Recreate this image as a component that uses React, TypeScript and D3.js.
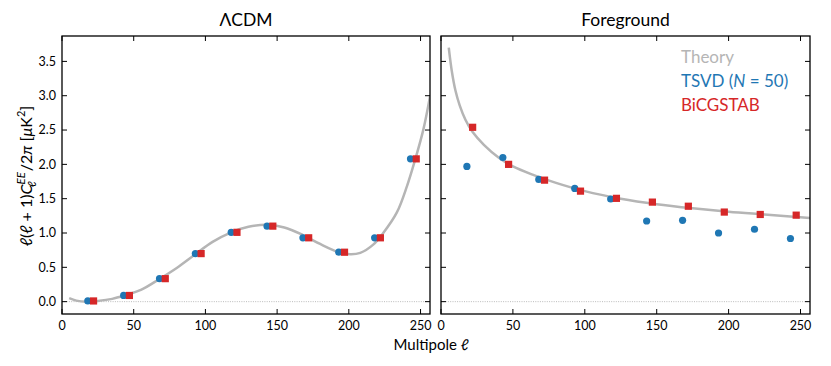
import React from 'react'
import * as d3 from 'd3'

// band centres (TSVD points sit a bit left of the bin, BiCGSTAB a bit right)
const ellTsvd = [18, 43, 68, 93, 118, 143, 168, 193, 218, 243]
const ellBicg = [22, 47, 72, 97, 122, 147, 172, 197, 222, 247]

// LCDM panel
const lcdmTsvd = [0.01, 0.09, 0.335, 0.70, 1.01, 1.10, 0.93, 0.72, 0.93, 2.08]
const lcdmBicg = [0.01, 0.09, 0.335, 0.70, 1.01, 1.10, 0.93, 0.72, 0.93, 2.08]
const lcdmTheoryEll = [5, 10, 17, 25, 35, 45, 55, 68, 80, 93, 105, 118, 130, 143, 155, 168, 180, 193, 201, 208, 217, 224, 233.5, 240.5, 246.4, 252, 256.6]
const lcdmTheory = [0.05, 0.015, 0.0, 0.01, 0.04, 0.10, 0.17, 0.33, 0.49, 0.69, 0.87, 1.01, 1.09, 1.12, 1.08, 0.97, 0.84, 0.72, 0.69, 0.71, 0.83, 1.0, 1.30, 1.68, 2.08, 2.51, 2.99]

// foreground panel
const fgTsvd = [1.97, 2.10, 1.78, 1.65, 1.495, 1.175, 1.185, 1.00, 1.055, 0.92]
const fgBicg = [2.54, 2.00, 1.77, 1.61, 1.505, 1.45, 1.39, 1.305, 1.27, 1.26]
const fgTheoryEll = [5.4, 7.5, 10, 13, 17, 22, 30, 40, 50, 65, 80, 100, 125, 150, 175, 200, 225, 256.6]
const fgTheory = [3.70, 3.36, 3.08, 2.86, 2.65, 2.47, 2.28, 2.10, 1.97, 1.84, 1.73, 1.61, 1.50, 1.42, 1.36, 1.31, 1.27, 1.22]

const xTicks = [0, 50, 100, 150, 200, 250]
const yTicks = [0, 0.5, 1, 1.5, 2, 2.5, 3, 3.5]
const legendLabels = ['Theory', 'TSVD', 'BiCGSTAB']

const blue = '#1f77b4'
const red = '#d62728'
const grey = '#b5b5b5'
const font = 'Lato, "DejaVu Sans", sans-serif'

const W = 831
const H = 366
const top = 36
const bottom = 314
const tick = 5

const y = d3.scaleLinear().domain([-0.18, 3.87]).range([bottom, top])

function Panel({ id, left, right, title, tsvd, bicg, theoryEll, theory, yLabels, legend }: any) {
  const x = d3.scaleLinear().domain([0, 256.6]).range([left, right])
  const line = d3.line<number>()
    .x((d, i) => x(theoryEll[i]))
    .y(d => y(d))
    .curve(d3.curveCatmullRom.alpha(0.5))

  return (
    <g>
      <defs>
        <clipPath id={id}>
          <rect x={left} y={top} width={right - left} height={bottom - top} />
        </clipPath>
      </defs>
      <text x={(left + right) / 2} y={26} textAnchor="middle" fontSize={17.5}>{title}</text>

      {/* zero line */}
      <line x1={left} x2={right} y1={y(0)} y2={y(0)} stroke="#aaa" strokeWidth={0.8} strokeDasharray="1,1.3" />

      <path d={line(theory) || ''} fill="none" stroke={grey} strokeWidth={2.5} clipPath={`url(#${id})`} />

      {tsvd.map((v: number, i: number) => (
        <circle key={'b' + i} cx={x(ellTsvd[i])} cy={y(v)} r={3.6} fill={blue} />
      ))}
      {bicg.map((v: number, i: number) => (
        <rect key={'r' + i} x={x(ellBicg[i]) - 3.6} y={y(v) - 3.6} width={7.2} height={7.2} fill={red} />
      ))}

      {/* ticks, pointing in on all four sides */}
      {xTicks.map(t => (
        <g key={'x' + t}>
          <line x1={x(t)} x2={x(t)} y1={bottom} y2={bottom - tick} stroke="#000" strokeWidth={1} />
          <line x1={x(t)} x2={x(t)} y1={top} y2={top + tick} stroke="#000" strokeWidth={1} />
          <text x={x(t)} y={bottom + 16} textAnchor="middle" fontSize={12.5}>{t}</text>
        </g>
      ))}
      {yTicks.map(t => (
        <g key={'y' + t}>
          <line x1={left} x2={left + tick} y1={y(t)} y2={y(t)} stroke="#000" strokeWidth={1} />
          <line x1={right} x2={right - tick} y1={y(t)} y2={y(t)} stroke="#000" strokeWidth={1} />
          {yLabels && <text x={left - 6} y={y(t) + 4.3} textAnchor="end" fontSize={12.5}>{t.toFixed(1)}</text>}
        </g>
      ))}

      <rect x={left} y={top} width={right - left} height={bottom - top} fill="none" stroke="#000" strokeWidth={1.3} />

      {legend && (
        <g fontSize={17}>
          <text x={681} y={63} fill={grey}>{legendLabels[0]}</text>
          <text x={681} y={87} fill={blue}>
            {legendLabels[1]} (<tspan fontStyle="italic">N</tspan>{' = 50)'}
          </text>
          <text x={681} y={111} fill={red}>{legendLabels[2]}</text>
        </g>
      )}
    </g>
  )
}

export default function App() {
  return (
    <svg width={W} height={H} style={{ display: 'block', position: 'absolute', left: 0, top: 0, background: '#fff' }}
      fontFamily={font}>
      <Panel id="clipL" left={62} right={430} title="ΛCDM" tsvd={lcdmTsvd} bicg={lcdmBicg}
        theoryEll={lcdmTheoryEll} theory={lcdmTheory} yLabels={true} legend={false} />
      <Panel id="clipR" left={441} right={810} title="Foreground" tsvd={fgTsvd} bicg={fgBicg}
        theoryEll={fgTheoryEll} theory={fgTheory} yLabels={false} legend={true} />

      <text x={431} y={350} textAnchor="middle" fontSize={15}>
        Multipole <tspan fontStyle="italic">ℓ</tspan>
      </text>

      <text transform="translate(32,176) rotate(-90)" textAnchor="middle" fontSize={16}>
        <tspan fontStyle="italic">ℓ</tspan>
        <tspan>(</tspan>
        <tspan fontStyle="italic">ℓ</tspan>
        <tspan>{' + 1)'}</tspan>
        <tspan fontStyle="italic">C</tspan>
        <tspan fontStyle="italic" fontSize={11.5} dy={-7}>EE</tspan>
        <tspan fontStyle="italic" fontSize={11.5} dx={-15} dy={11}>ℓ</tspan>
        <tspan dx={10} dy={-4}>/2</tspan>
        <tspan fontStyle="italic">π</tspan>
        <tspan>{' ['}</tspan>
        <tspan fontStyle="italic">μ</tspan>
        <tspan>K</tspan>
        <tspan fontSize={11} dy={-7}>2</tspan>
        <tspan dy={7}>]</tspan>
      </text>
    </svg>
  )
}
